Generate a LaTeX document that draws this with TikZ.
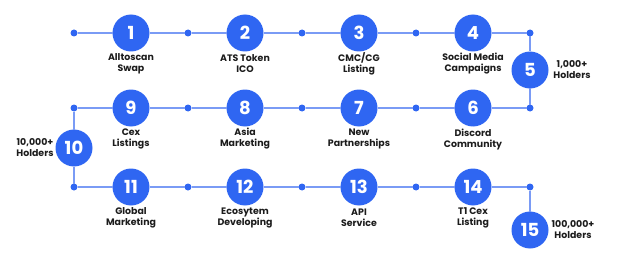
\documentclass[tikz,border=0pt]{standalone}
\usepackage{fontspec}
\setmainfont{Poppins}
\usepackage{xcolor}
\usepackage{tikz}
\usetikzlibrary{positioning}
\definecolor{hitoazul}{HTML}{2F66F2}
\definecolor{lineaazul}{HTML}{7A9BF5}
\definecolor{textonegro}{HTML}{1C1C1C}

\begin{document}
\begin{tikzpicture}[
    node distance=57pt, on grid,
    every node/.style={font=\bfseries\fontsize{9.4}{11}\selectfont, text=textonegro},
    hito/.style={circle, fill=hitoazul, minimum size=37pt, inner sep=0pt, outer sep=0pt,
        text=white, font=\bfseries\fontsize{18}{18}\selectfont},
    punto/.style={circle, fill=hitoazul, minimum size=7pt, inner sep=0pt, outer sep=0pt},
    etiqueta/.style={align=center, inner sep=0pt},
    linea/.style={line width=1.3pt, color=lineaazul}
]
\useasboundingbox (0,0) rectangle (640pt,-262pt);

% fila superior
\node[punto] (p1) at (74pt,-33pt) {};
\node[hito, right=of p1] (h1) {1};
\node[punto, right=of h1] (p2) {};
\node[hito, right=of p2] (h2) {2};
\node[punto, right=of h2] (p3) {};
\node[hito, right=of p3] (h3) {3};
\node[punto, right=of h3] (p4) {};
\node[hito, right=of p4] (h4) {4};
\node[punto, right=of h4] (p5) {};
\node[hito, below=37pt of p5] (h5) {5};
\node[punto, below=38pt of h5] (p6) {};

% fila central
\node[hito, left=of p6] (h6) {6};
\node[punto, left=of h6] (p7) {};
\node[hito, left=of p7] (h7) {7};
\node[punto, left=of h7] (p8) {};
\node[hito, left=of p8] (h8) {8};
\node[punto, left=of h8] (p9) {};
\node[hito, left=of p9] (h9) {9};
\node[punto, left=of h9] (p10) {};
\node[hito, below=40pt of p10] (h10) {10};
\node[punto, below=39pt of h10] (p11) {};

% fila inferior
\node[hito, right=of p11] (h11) {11};
\node[punto, right=of h11] (p12) {};
\node[hito, right=of p12] (h12) {12};
\node[punto, right=of h12] (p13) {};
\node[hito, right=of p13] (h13) {13};
\node[punto, right=of h13] (p14) {};
\node[hito, right=of p14] (h14) {14};
\node[punto, right=of h14] (p15) {};
\node[hito, below=43pt of p15] (h15) {15};

\draw[linea] (p1) -- (h1) -- (p2) -- (h2) -- (p3) -- (h3) -- (p4) -- (h4) -- (p5)
    -- (h5) -- (p6) -- (h6) -- (p7) -- (h7) -- (p8) -- (h8) -- (p9) -- (h9) -- (p10)
    -- (h10) -- (p11) -- (h11) -- (p12) -- (h12) -- (p13) -- (h13) -- (p14) -- (h14)
    -- (p15) -- (h15);

% textos
\node[etiqueta, below=31pt of h1] (e1) {Alltoscan\\Swap};
\node[etiqueta, below=31pt of h2] (e2) {ATS Token\\ICO};
\node[etiqueta, below=31pt of h3] (e3) {CMC/CG\\Listing};
\node[etiqueta, below=31pt of h4] (e4) {Social Media\\Campaigns};
\node[etiqueta, right=42pt of h5] (e5) {1,000+\\Holders};
\node[etiqueta, below=31pt of h6] (e6) {Discord\\Community};
\node[etiqueta, below=31pt of h7] (e7) {New\\Partnerships};
\node[etiqueta, below=31pt of h8] (e8) {Asia\\Marketing};
\node[etiqueta, below=31pt of h9] (e9) {Cex\\Listings};
\node[etiqueta, left=39pt of h10] (e10) {10,000+\\Holders};
\node[etiqueta, below=31pt of h11] (e11) {Global\\Marketing};
\node[etiqueta, below=31pt of h12] (e12) {Ecosytem\\Developing};
\node[etiqueta, below=31pt of h13] (e13) {API\\Service};
\node[etiqueta, below=31pt of h14] (e14) {T1 Cex\\Listing};
\node[etiqueta, right=43pt of h15] (e15) {100,000+\\Holders};
\end{tikzpicture}
\end{document}
